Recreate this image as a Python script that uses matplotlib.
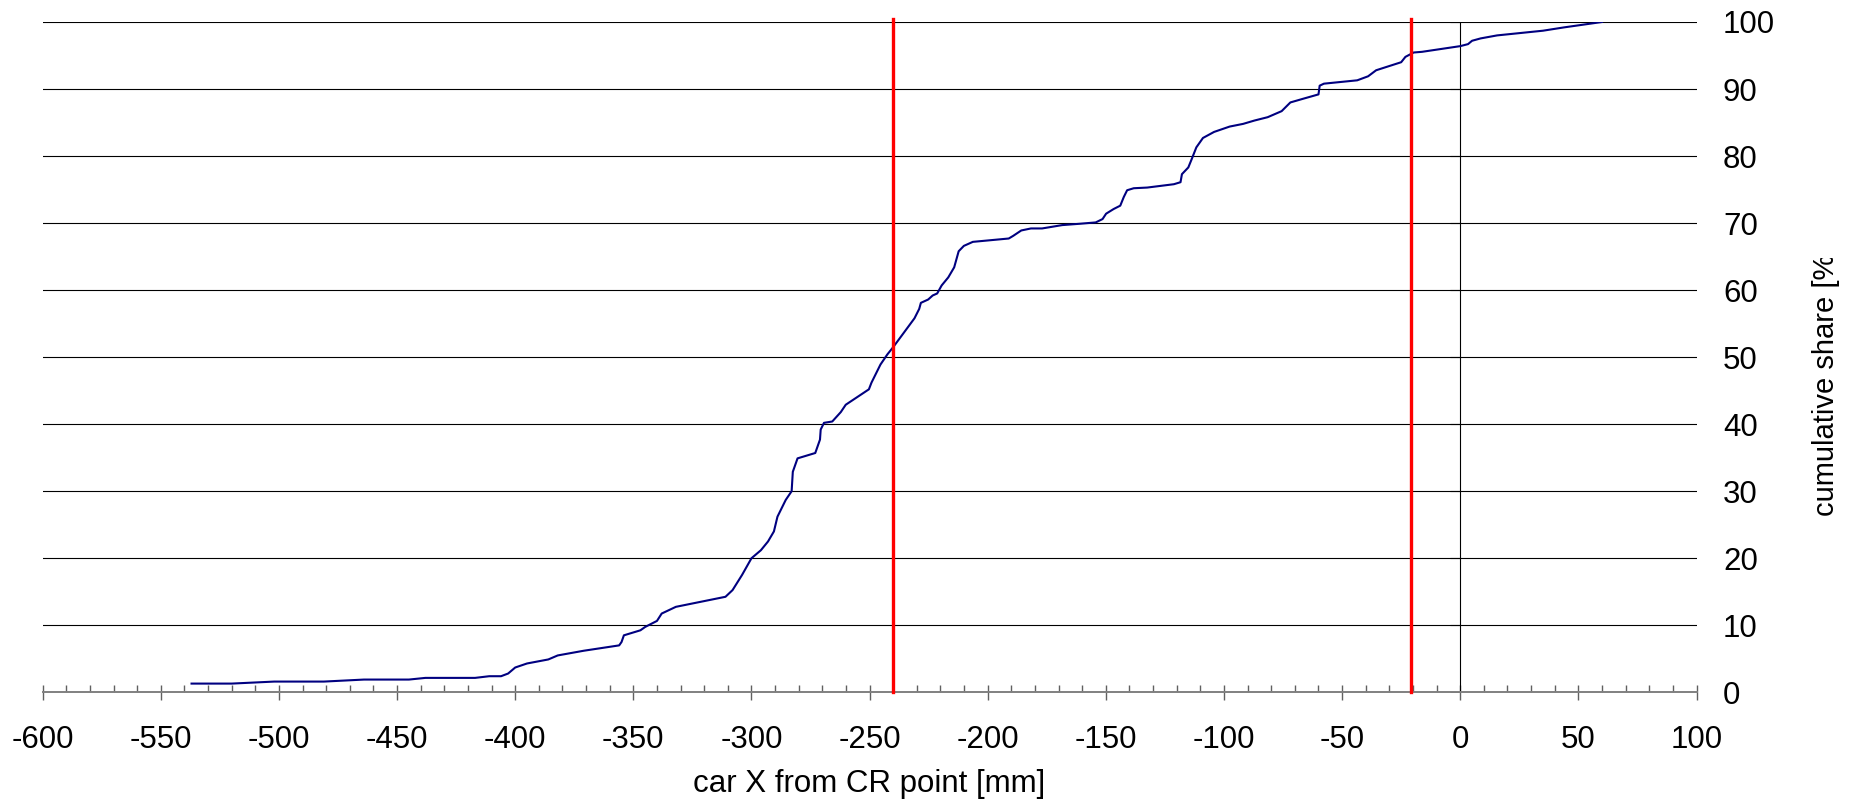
import matplotlib
matplotlib.use("Agg")
import matplotlib.pyplot as plt
from matplotlib.ticker import MultipleLocator
from matplotlib.transforms import Bbox, TransformedBbox
from matplotlib.lines import TICKLEFT

plt.rcParams['font.family'] = ['Liberation Sans', 'DejaVu Sans']
plt.rcParams['axes.unicode_minus'] = False

# cumulative distribution
x_mm = [-537, -520, -502, -481, -464, -445, -438, -417, -411, -406, -403, -400,
        -395, -386, -382, -371, -356, -355, -354, -347, -345, -340, -338, -332,
        -311, -308, -304, -300, -296, -293, -290.5, -289, -285.5, -283, -282.5,
        -280.5, -273, -271, -270.7, -269.3, -265.8, -262.2, -260.1, -250.3,
        -249.2, -245.4, -242.5, -240, -231, -229, -228.3, -225.2, -223.3, -221.4,
        -219.5, -216.7, -214.2, -212.3, -210.1, -206.3, -191.1, -189.2, -185.8,
        -181.7, -177, -168.5, -161, -154.3, -151.4, -149.9, -146.7, -143.9,
        -142.4, -141, -138.2, -132.5, -121.2, -118.4, -117.8, -115.1, -113.6,
        -111.7, -108.9, -104.2, -97.6, -91.9, -87.1, -81.5, -75.6, -71.9, -66.5,
        -60, -59.5, -57.7, -43.6, -39, -35.6, -25, -23.2, -19.7, -16.2, 0, 3.3,
        5, 8.6, 15.6, 35, 44, 60]
share_pct = [1.3, 1.3, 1.6, 1.6, 1.9, 1.9, 2.15, 2.15, 2.4, 2.4, 2.8, 3.7,
             4.3, 4.9, 5.5, 6.2, 7.0, 7.5, 8.5, 9.25, 9.75, 10.65, 11.75, 12.75,
             14.25, 15.25, 17.5, 20.0, 21.2, 22.5, 24.0, 26.2, 28.7, 30.0, 32.9,
             34.9, 35.7, 37.7, 39.2, 40.2, 40.4, 41.8, 42.9, 45.2,
             46.2, 48.9, 50.4, 51.5, 55.8, 57.2, 58.1, 58.6, 59.2, 59.5,
             60.7, 61.9, 63.4, 65.8, 66.6, 67.2, 67.7, 68.1, 68.9,
             69.2, 69.2, 69.7, 69.9, 70.1, 70.6, 71.4, 72.1, 72.6,
             73.9, 74.9, 75.2, 75.3, 75.8, 76.1, 77.3, 78.3, 79.6,
             81.3, 82.7, 83.6, 84.4, 84.8, 85.3, 85.8, 86.7, 88.0, 88.55,
             89.2, 90.5, 90.8, 91.3, 91.9, 92.8, 94.0, 94.8, 95.45, 95.55, 96.4, 96.7,
             97.2, 97.55, 98.0, 98.7, 99.2, 100.0]
limit_lines = [-240, -21]
x_ticks = list(range(-600, 101, 50))
y_ticks = list(range(0, 101, 10))

fig = plt.figure(figsize=(18.54, 8.07), dpi=100)
ax = fig.add_axes([0.02303, 0.14213, 0.89202, 0.83061])
ax.set_xlim(-600, 100)
ax.set_ylim(0, 100)

for s in ['top', 'right', 'left']:
    ax.spines[s].set_visible(False)
ax.spines['bottom'].set_color('#808080')
ax.spines['bottom'].set_linewidth(1.4)
ax.spines['bottom'].set_zorder(4)

# horizontal gridlines
ax.set_yticks(y_ticks)
ax.yaxis.grid(True, color='black', linewidth=0.8)
ax.set_axisbelow(True)
ax.tick_params(axis='y', left=False, right=False, length=0,
               labelleft=False, labelright=True, labelsize=22.5, pad=19)

# x axis ticks
ax.set_xticks(x_ticks)
ax.set_xticklabels([str(v) for v in x_ticks])
ax.xaxis.set_minor_locator(MultipleLocator(10))
ax.tick_params(axis='x', which='major', direction='inout', length=10.8,
               width=1, color='#606060', labelsize=22.5, pad=18)
ax.tick_params(axis='x', which='minor', direction='in', length=5, width=1,
               color='#606060')

# value axis crossing at x=0
ax.axvline(0, color='black', linewidth=0.8, zorder=2)
ax.plot([0] * len(y_ticks), y_ticks, linestyle='none', marker=TICKLEFT,
        markersize=7, color='black', markeredgewidth=0.8, zorder=2)

ax.plot(x_mm, share_pct, color='#000080', linewidth=1.5, zorder=3)

for xv in limit_lines:
    ax.plot([xv, xv], [0, 100.5], color='#ff0000', linewidth=2.4,
            clip_on=False, zorder=5)

fig.text(869 / 1854, 1 - 784 / 807, 'car X from CR point [mm]',
         ha='center', va='center', fontsize=22.5)

# y title, cut off at the top like in the original
ylab = fig.text(1826 / 1854, 1 - 516 / 807, 'cumulative share [%]',
                rotation=90, ha='center', va='bottom', fontsize=21)
clip = TransformedBbox(Bbox([[0.9, 0], [1, 1 - 258 / 807]]), fig.transFigure)
ylab.set_clip_box(clip)
ylab.set_clip_on(True)

fig.savefig('out.png', dpi=100)
